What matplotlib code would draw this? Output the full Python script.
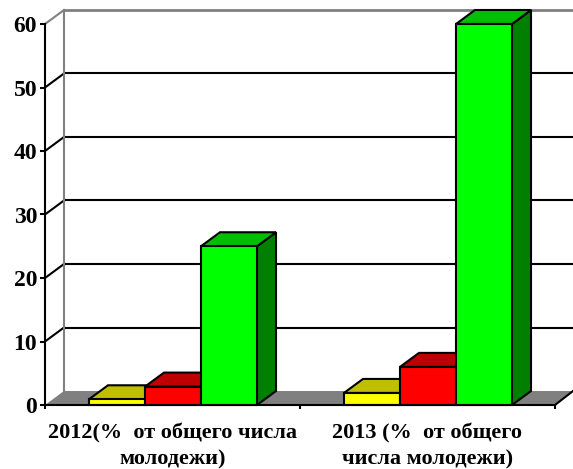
import numpy as np
import matplotlib
matplotlib.use("Agg")
import matplotlib.pyplot as plt
from matplotlib.patches import Polygon

plt.rcParams['font.family'] = ['Liberation Serif', 'DejaVu Sans']

# values
categories = ['2012(%  от общего числа\nмолодежи)', '2013 (%  от общего\nчисла молодежи)']
yellow_vals = [0.9, 1.9]
red_vals = [2.9, 6.0]
green_vals = [25.0, 60.0]
y_ticks = [0, 10, 20, 30, 40, 50, 60]

# face, top, side colours for each series
series = [
    (yellow_vals, '#ffff00', '#bfbf00', '#7f7f00'),
    (red_vals, '#ff0000', '#bf0000', '#7f0000'),
    (green_vals, '#00ff00', '#00bf00', '#007f00'),
]

W, H = 573, 469
fig = plt.figure(figsize=(W / 100, H / 100), dpi=100)
ax = fig.add_axes([45 / W, (H - 405) / H, 510 / W, 381 / H])
ax.set_xlim(0, 2)
ax.set_ylim(0, 60)

# depth of the fake 3d box, in data units
dx = 19 / 255
dy = 14 / 6.35
bar_w = 56 / 255
start = 44 / 255
x_end = 2 + 18 / 255

# floor
ax.add_patch(Polygon([(0, 0), (dx, dy), (x_end + dx - 19 / 255, dy), (2, 0)], closed=True,
                     fc='#808080', ec='none', clip_on=False, zorder=1))
ax.plot([2, x_end], [0, dy], color='black', lw=1.5, clip_on=False, zorder=1.5)

# back wall grid and the left wall diagonals
for v in y_ticks[1:-1]:
    ax.plot([0, dx], [v, v + dy], color='black', lw=1.5, clip_on=False, zorder=2)
    ax.plot([dx, x_end], [v + dy, v + dy], color='black', lw=1.5, clip_on=False, zorder=2)
ax.plot([0, dx], [60, 60 + dy], color='#808080', lw=1.5, clip_on=False, zorder=2)
ax.plot([dx, x_end], [60 + dy, 60 + dy], color='#808080', lw=2, clip_on=False, zorder=2)
ax.plot([dx, dx], [dy, 60 + dy], color='#808080', lw=1.5, clip_on=False, zorder=2)

# bars, drawn left to right so each front covers the side of the one before
for g in range(2):
    for s, (vals, face, top, side) in enumerate(series):
        x0 = g + start + s * bar_w
        x1 = x0 + bar_w
        v = vals[g]
        z = 3 + g + s * 0.1
        ax.add_patch(Polygon([(x1, 0), (x1 + dx, dy), (x1 + dx, v + dy), (x1, v)], closed=True,
                             fc=side, ec='black', lw=1.5, clip_on=False, zorder=z))
        ax.add_patch(Polygon([(x0, v), (x0 + dx, v + dy), (x1 + dx, v + dy), (x1, v)], closed=True,
                             fc=top, ec='black', lw=1.5, clip_on=False, zorder=z))
        ax.bar(x0, v, width=bar_w, align='edge', color=face, edgecolor='black', lw=1.5,
               clip_on=False, zorder=z + 0.01)

for name in ['top', 'right']:
    ax.spines[name].set_visible(False)
for name in ['left', 'bottom']:
    ax.spines[name].set_linewidth(1.5)
    ax.spines[name].set_zorder(10)
ax.patch.set_visible(False)

ax.set_yticks(y_ticks)
ax.set_yticklabels([str(v) for v in y_ticks], fontsize=17, fontweight='bold')
ax.set_xticks([0, 1, 2])
ax.set_xticklabels([])
ax.set_xticks([0.5, 1.5], minor=True)
ax.set_xticklabels(categories, minor=True, fontsize=16, fontweight='bold', linespacing=1.4)
ax.tick_params(axis='x', which='minor', length=0, pad=13)
ax.tick_params(axis='x', which='major', length=3, width=1.5)
ax.tick_params(axis='y', which='major', length=3.6, width=1.5, pad=2)

fig.savefig('out.png', dpi=100)
